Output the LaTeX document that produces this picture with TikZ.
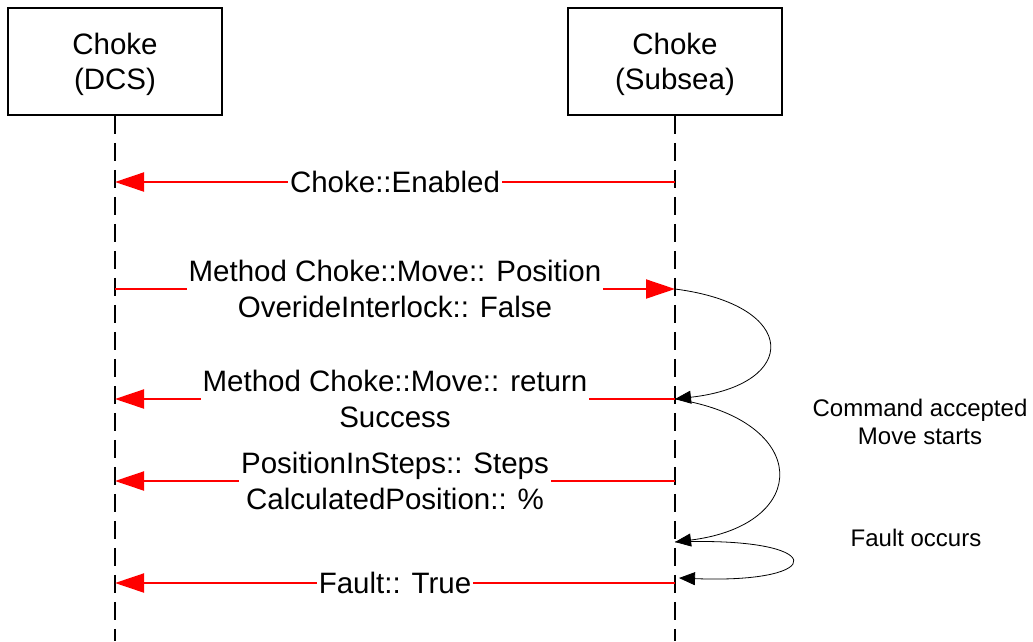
\documentclass[tikz,border=0pt]{standalone}
\usepackage{fontspec}
\setmainfont{Liberation Sans}
\usetikzlibrary{arrows.meta}
\begin{document}
\begin{tikzpicture}[x=1pt,y=-1pt,
  actor/.style={draw=black, line width=1.6pt, minimum width=214pt, minimum height=107pt,
    inner sep=0pt},
  actortext/.style={align=center, font=\fontsize{29.5}{35.5}\selectfont, yshift=-3pt},
  lifeline/.style={black, line width=1.8pt, dash pattern=on 18pt off 9pt},
  msg/.style={red, line width=2pt, -{Triangle[length=29pt,width=19pt]}},
  msglabel/.style={fill=white, text=black, align=center, font=\fontsize{29.5}{35.5}\selectfont,
    inner xsep=2pt, inner ysep=0pt},
  selfcall/.style={black, line width=0.8pt, -{Triangle[length=16pt,width=13pt]}},
  note/.style={align=center, font=\fontsize{24}{28}\selectfont}]

\useasboundingbox (0,0) rectangle (1033,641);

% participants
\node[actor, label={[actortext]center:Choke\\(DCS)}] (dcs) at (115,61.5) {};
\node[actor, label={[actortext]center:Choke\\(Subsea)}] (sub) at (675,61.5) {};

% lifelines
\coordinate (dcsEnd) at (115,641);
\coordinate (subEnd) at (675,641);
\draw[lifeline] (dcs.south) -- (dcsEnd);
\draw[lifeline] (sub.south) -- (subEnd);

% message anchor points on the lifelines
\coordinate (dEnabled) at (115,182);  \coordinate (sEnabled) at (675,182);
\coordinate (dMove)    at (115,289);  \coordinate (sMove)    at (675,289);
\coordinate (dReturn)  at (115,399);  \coordinate (sReturn)  at (675,399);
\coordinate (dSteps)   at (115,481);  \coordinate (sSteps)   at (675,481);
\coordinate (sFault)   at (675,542);
\coordinate (sFaultEnd) at (679,578);
\coordinate (dTrue)    at (115,583);  \coordinate (sTrue)    at (675,583);

% messages
\draw[msg] (sEnabled) -- node[msglabel] {Choke::Enabled} (dEnabled);
\draw[msg] (dMove) -- node[msglabel] {Method Choke::Move:: Position\\OverideInterlock:: False} (sMove);
\draw[msg] (sReturn) -- node[msglabel] {Method Choke::Move:: return\\Success} (dReturn);
\draw[msg] (sSteps) -- node[msglabel] {PositionInSteps:: Steps\\CalculatedPosition:: \%} (dSteps);
\draw[msg] (sTrue) -- node[msglabel] {Fault:: True} (dTrue);

% internal transitions of the subsea choke
\draw[selfcall] (sMove) .. controls (800,305) and (800,385) .. (sReturn);
\draw[selfcall] (sReturn) .. controls (812,420) and (812,525) .. (sFault);
\draw[selfcall] (sFault) .. controls (830,536) and (830,584) .. (sFaultEnd);

% notes
\node[note] (accepted) at (920,422) {Command accepted\\Move starts};
\node[note] (faultNote) at (916,538) {Fault occurs};
\end{tikzpicture}
\end{document}
